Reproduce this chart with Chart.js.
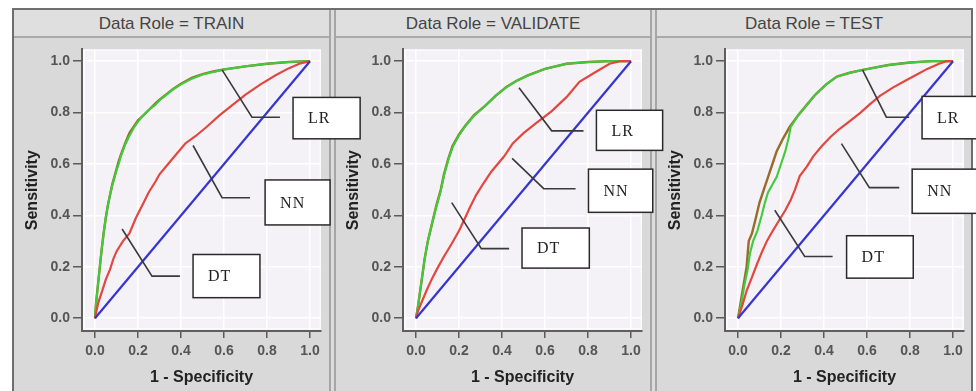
<!DOCTYPE html>
<html><head><meta charset="utf-8">
<script src="https://cdn.jsdelivr.net/npm/chart.js@4.4.1/dist/chart.umd.min.js"></script>
<style>
html,body{margin:0;padding:0;background:#fff;width:976px;height:391px;overflow:hidden;font-family:'Liberation Sans',Arial,sans-serif;}
#frame{position:absolute;left:12px;top:8px;width:957px;height:400px;border:2px solid #6e6e6e;background:#dcdcdc;}
.cell{position:absolute;top:10px;height:390px;background:#d9d9d9;box-sizing:border-box;}
.hdr{position:absolute;top:10px;height:28px;box-sizing:border-box;background:#dfdfdf;border-bottom:2px solid #a9a9a9;text-align:center;font-size:17px;line-height:27px;color:#444;}
canvas.panel{position:absolute;top:38px;}
#overlay{position:absolute;left:0;top:0;pointer-events:none;}
</style></head>
<body>
<div id="frame"></div>
<div class="cell" style="left:14px;width:317px;border-right:2px solid #a6a6a6;"></div>
<div class="cell" style="left:334px;width:318px;border-left:2px solid #a6a6a6;border-right:2px solid #a6a6a6;"></div>
<div class="cell" style="left:655px;width:316px;border-left:2px solid #a6a6a6;"></div>
<div class="hdr" style="left:14px;width:315px;">Data Role = TRAIN</div>
<div class="hdr" style="left:336px;width:314px;">Data Role = VALIDATE</div>
<div class="hdr" style="left:657px;width:314px;">Data Role = TEST</div>
<canvas id="c0" class="panel" width="316" height="353" style="left:13px"></canvas>
<canvas id="c1" class="panel" width="316" height="353" style="left:334px"></canvas>
<canvas id="c2" class="panel" width="316" height="353" style="left:656px"></canvas>
<canvas id="overlay" width="976" height="391"></canvas>
<script>
// ---------------- data ----------------
const ROLES = ['TRAIN', 'VALIDATE', 'TEST'];
const TICKS = [0.0, 0.2, 0.4, 0.6, 0.8, 1.0];
const X_TITLE = '1 - Specificity';
const Y_TITLE = 'Sensitivity';
const LABELS = ['LR', 'NN', 'DT'];

const BASELINE = [[0,0],[1,1]];

const TRAIN_GREEN = [[0,0],[0.005,0.06],[0.01,0.1],[0.02,0.18],[0.03,0.26],[0.04,0.33],[0.05,0.39],[0.06,0.44],[0.07,0.48],[0.08,0.515],[0.09,0.545],[0.1,0.575],[0.11,0.6],[0.12,0.63],[0.14,0.675],[0.16,0.71],[0.18,0.74],[0.2,0.765],[0.22,0.785],[0.25,0.81],[0.28,0.83],[0.3,0.848],[0.33,0.868],[0.36,0.888],[0.4,0.91],[0.45,0.932],[0.5,0.948],[0.55,0.958],[0.6,0.967],[0.7,0.98],[0.8,0.99],[0.9,0.997],[1,1]];
const TRAIN_BROWN = [[0,0],[0.005,0.06],[0.01,0.1],[0.02,0.18],[0.03,0.26],[0.04,0.33],[0.05,0.39],[0.06,0.44],[0.07,0.48],[0.08,0.52],[0.09,0.55],[0.1,0.58],[0.11,0.61],[0.12,0.635],[0.14,0.68],[0.16,0.72],[0.18,0.745],[0.2,0.77],[0.22,0.785],[0.25,0.81],[0.28,0.835],[0.3,0.85],[0.33,0.87],[0.36,0.89],[0.4,0.912],[0.45,0.935],[0.5,0.95],[0.55,0.96],[0.6,0.968],[0.7,0.98],[0.8,0.99],[0.9,0.997],[1,1]];
const TRAIN_RED = [[0,0],[0.015,0.06],[0.035,0.11],[0.05,0.15],[0.07,0.19],[0.085,0.23],[0.1,0.26],[0.13,0.3],[0.16,0.33],[0.19,0.39],[0.22,0.44],[0.25,0.49],[0.28,0.53],[0.3,0.56],[0.34,0.6],[0.38,0.64],[0.42,0.68],[0.47,0.71],[0.52,0.745],[0.58,0.79],[0.64,0.83],[0.7,0.87],[0.77,0.91],[0.84,0.945],[0.9,0.972],[0.95,0.99],[1,1]];

const VALIDATE_GREEN = [[0,0],[0.01,0.05],[0.02,0.11],[0.03,0.17],[0.04,0.23],[0.055,0.3],[0.075,0.37],[0.095,0.435],[0.115,0.495],[0.13,0.555],[0.15,0.615],[0.17,0.665],[0.2,0.712],[0.23,0.748],[0.27,0.788],[0.32,0.825],[0.37,0.865],[0.42,0.898],[0.47,0.924],[0.52,0.944],[0.6,0.97],[0.7,0.99],[0.8,0.997],[0.9,1],[1,1]];
const VALIDATE_BROWN = [[0,0],[0.01,0.05],[0.02,0.11],[0.03,0.17],[0.04,0.23],[0.055,0.3],[0.075,0.37],[0.095,0.44],[0.115,0.5],[0.13,0.56],[0.15,0.62],[0.17,0.67],[0.2,0.715],[0.23,0.75],[0.27,0.79],[0.32,0.825],[0.37,0.865],[0.42,0.9],[0.47,0.925],[0.52,0.945],[0.6,0.97],[0.7,0.99],[0.8,0.997],[0.9,1],[1,1]];
const VALIDATE_RED = [[0,0],[0.01,0.03],[0.03,0.07],[0.05,0.11],[0.075,0.155],[0.1,0.195],[0.13,0.24],[0.166,0.29],[0.2,0.34],[0.226,0.386],[0.25,0.43],[0.28,0.48],[0.31,0.52],[0.35,0.57],[0.41,0.63],[0.45,0.68],[0.5,0.72],[0.56,0.76],[0.63,0.805],[0.7,0.86],[0.76,0.92],[0.82,0.95],[0.9,0.99],[0.95,1],[1,1]];

const TEST_GREEN = [[0,0],[0.01,0.04],[0.02,0.08],[0.03,0.13],[0.045,0.19],[0.055,0.25],[0.07,0.3],[0.09,0.34],[0.11,0.4],[0.125,0.45],[0.14,0.49],[0.16,0.52],[0.18,0.55],[0.2,0.6],[0.22,0.65],[0.235,0.7],[0.245,0.744],[0.28,0.79],[0.32,0.83],[0.36,0.87],[0.41,0.91],[0.46,0.94],[0.52,0.955],[0.58,0.966],[0.7,0.985],[0.8,0.995],[0.9,1],[1,1]];
const TEST_BROWN = [[0,0],[0.01,0.05],[0.02,0.1],[0.03,0.15],[0.04,0.2],[0.05,0.3],[0.065,0.33],[0.08,0.38],[0.1,0.45],[0.12,0.5],[0.14,0.55],[0.16,0.6],[0.18,0.65],[0.21,0.7],[0.24,0.744],[0.28,0.79],[0.32,0.83],[0.36,0.87],[0.41,0.91],[0.46,0.94],[0.52,0.955],[0.58,0.966],[0.7,0.985],[0.8,0.995],[0.9,1],[1,1]];
const TEST_RED = [[0,0],[0.02,0.05],[0.04,0.107],[0.065,0.16],[0.088,0.21],[0.11,0.255],[0.134,0.3],[0.165,0.345],[0.195,0.386],[0.22,0.42],[0.245,0.46],[0.265,0.5],[0.287,0.553],[0.32,0.59],[0.35,0.63],[0.39,0.67],[0.43,0.705],[0.47,0.735],[0.52,0.767],[0.57,0.8],[0.61,0.83],[0.66,0.865],[0.72,0.897],[0.78,0.925],[0.83,0.947],[0.88,0.97],[0.935,0.99],[0.97,1],[1,1]];

// ---------------- styling / layout ----------------
const COLORS = {blue:'#3535d0', red:'#e2483f', green:'#3fcb3a', brown:'#9a6a2c'};
const SERIES = [
  {green:TRAIN_GREEN, brown:TRAIN_BROWN, red:TRAIN_RED},
  {green:VALIDATE_GREEN, brown:VALIDATE_BROWN, red:VALIDATE_RED},
  {green:TEST_GREEN, brown:TEST_BROWN, red:TEST_RED}
];
// annotation callouts in data units of each panel: leader polyline + box
const CALLOUTS = [
  [
    {t:LABELS[0], line:[[0.591,0.966],[0.730,0.782],[0.860,0.782]], box:[0.921,0.859,1.233,0.698]},
    {t:LABELS[1], line:[[0.456,0.672],[0.591,0.469],[0.721,0.469]], box:[0.791,0.538,1.093,0.363]},
    {t:LABELS[2], line:[[0.126,0.347],[0.265,0.164],[0.395,0.164]], box:[0.456,0.248,0.767,0.080]}
  ],
  [
    {t:LABELS[0], line:[[0.479,0.897],[0.631,0.729],[0.779,0.729]], box:[0.839,0.809,1.147,0.653]},
    {t:LABELS[1], line:[[0.447,0.622],[0.594,0.504],[0.742,0.504]], box:[0.802,0.580,1.101,0.412]},
    {t:LABELS[2], line:[[0.166,0.450],[0.304,0.271],[0.433,0.271]], box:[0.493,0.351,0.806,0.195]}
  ],
  [
    {t:LABELS[0], line:[[0.579,0.966],[0.690,0.782],[0.796,0.782]], box:[0.856,0.863,1.167,0.698]},
    {t:LABELS[1], line:[[0.481,0.679],[0.611,0.508],[0.750,0.508]], box:[0.810,0.580,1.120,0.408]},
    {t:LABELS[2], line:[[0.171,0.420],[0.310,0.240],[0.440,0.240]], box:[0.505,0.321,0.815,0.156]}
  ]
];

const toPts = a => a.map(p => ({x:p[0], y:p[1]}));
const FONT = "'Liberation Sans', Arial, sans-serif";

const bgPlugin = {
  id:'plotbg',
  beforeDraw(chart){
    const {ctx, chartArea:a} = chart;
    ctx.save();
    ctx.fillStyle = '#f4f1f7';
    ctx.fillRect(a.left, a.top, a.right - a.left, a.bottom - a.top);
    ctx.strokeStyle = '#fbfbfd';
    ctx.lineWidth = 1.5;
    ctx.strokeRect(a.left + 2, a.top + 0.75, a.right - a.left - 2.75, a.bottom - a.top - 3);
    ctx.restore();
  }
};

function ds(data, color, w){
  return {data: toPts(data), borderColor: color, backgroundColor: color, borderWidth: w,
          showLine: true, pointRadius: 0, tension: 0, fill: false};
}

const charts = ROLES.map((role, i) => {
  const s = SERIES[i];
  return new Chart(document.getElementById('c' + i), {
    type: 'scatter',
    data: {datasets: [ds(BASELINE, COLORS.blue, 2.2), ds(s.red, COLORS.red, 2.2), ds(s.green, COLORS.green, 2.1), ds(s.brown, COLORS.brown, 2.4)]},
    options: {
      responsive: false, animation: false, events: [],
      layout: {padding: {top: 6, right: 8, left: 0, bottom: 0}},
      plugins: {legend: {display: false}, tooltip: {enabled: false}},
      scales: {
        x: {
          type: 'linear', min: -0.0605, max: 1.051,
          afterBuildTicks: sc => { sc.ticks = TICKS.map(v => ({value: v})); },
          afterFit: sc => { sc.height = 60; },
          grid: {color: '#ffffff', lineWidth: 1.5, tickColor: '#5a5a5a', tickLength: 7, tickWidth: 1.5},
          border: {display: true, color: '#5f5f5f', width: 2},
          ticks: {padding: 5, color: '#555', font: {family: FONT, size: 14, weight: 'bold'},
                  callback: v => Number(v).toFixed(1), maxRotation: 0, autoSkip: false},
          title: {display: true, text: X_TITLE, color: '#222', font: {family: FONT, size: 16, weight: 'bold'},
                  padding: {top: 0, bottom: 4}}
        },
        y: {
          type: 'linear', min: -0.0496, max: 1.0458,
          afterBuildTicks: sc => { sc.ticks = TICKS.map(v => ({value: v})); },
          afterFit: sc => { sc.width = 69; },
          grid: {color: '#ffffff', lineWidth: 1.5, tickColor: '#5a5a5a', tickLength: 9, tickWidth: 1.5},
          border: {display: true, color: '#5f5f5f', width: 2},
          ticks: {padding: 3, color: '#555', font: {family: FONT, size: 14, weight: 'bold'},
                  callback: v => Number(v).toFixed(1), autoSkip: false},
          title: {display: true, text: Y_TITLE, color: '#222', font: {family: FONT, size: 16, weight: 'bold'},
                  padding: {top: 10, bottom: 0}}
        }
      }
    },
    plugins: [bgPlugin]
  });
});

// ---------------- callouts overlay ----------------
const ov = document.getElementById('overlay');
const octx = ov.getContext('2d');
charts.forEach((chart, i) => {
  const cv = chart.canvas;
  const ox = cv.offsetLeft, oy = cv.offsetTop;
  const px = v => ox + chart.scales.x.getPixelForValue(v);
  const py = v => oy + chart.scales.y.getPixelForValue(v);
  CALLOUTS[i].forEach(c => {
    octx.save();
    octx.strokeStyle = '#3a3a3a';
    octx.lineWidth = 1.6;
    octx.beginPath();
    c.line.forEach((p, k) => { const X = px(p[0]), Y = py(p[1]); k ? octx.lineTo(X, Y) : octx.moveTo(X, Y); });
    octx.stroke();
    const x0 = px(c.box[0]), y0 = py(c.box[1]), x1 = px(c.box[2]), y1 = py(c.box[3]);
    octx.fillStyle = '#ffffff';
    octx.fillRect(x0, y0, x1 - x0, y1 - y0);
    octx.strokeStyle = '#2a2a2a';
    octx.lineWidth = 1.5;
    octx.strokeRect(x0, y0, x1 - x0, y1 - y0);
    octx.fillStyle = '#222';
    octx.font = "16px 'Liberation Serif', 'Times New Roman', serif";
    try { octx.letterSpacing = '1px'; } catch(e) {}
    octx.textBaseline = 'middle';
    octx.textAlign = 'left';
    octx.fillText(c.t, x0 + 15, (y0 + y1) / 2 + 1);
    octx.restore();
  });
});
</script>
</body></html>
